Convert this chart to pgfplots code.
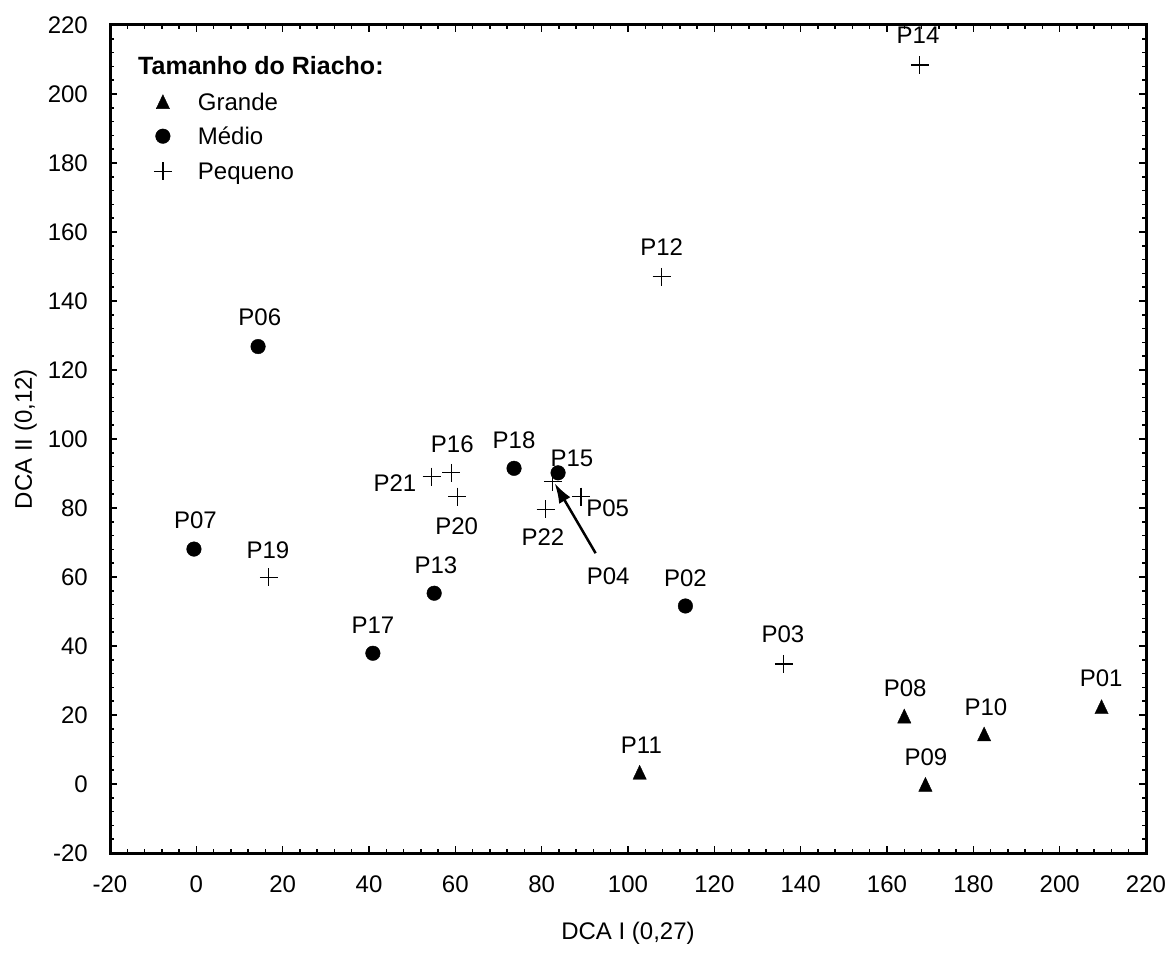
\documentclass[border=0pt]{standalone}
\usepackage{fontspec}
\setmainfont{Liberation Sans}
\usepackage{pgfplots}
\pgfplotsset{compat=1.18}
\usetikzlibrary{arrows.meta}
\newcommand\fs{\fontsize{24}{29}\selectfont}
\pgfdeclareplotmark{tri}{%
 \pgfpathmoveto{\pgfqpoint{0pt}{\pgfplotmarksize}}%
 \pgfpathlineto{\pgfqpoint{-0.95\pgfplotmarksize}{-\pgfplotmarksize}}%
 \pgfpathlineto{\pgfqpoint{0.95\pgfplotmarksize}{-\pgfplotmarksize}}%
 \pgfpathclose\pgfusepathqfillstroke}
\begin{document}
\begin{tikzpicture}[font=\fs]
\begin{axis}[
 scale only axis, width=1036pt, height=828pt,
 xmin=-20, xmax=220, ymin=-20, ymax=220,
 xtick distance=20, ytick distance=20, minor tick num=4,
 tick align=inside, tick pos=both,
 major tick length=7pt, minor tick length=4pt,
 every tick/.style={black, line width=1.5pt},
 separate axis lines,
 axis line style={line width=3pt, line cap=rect},
 every outer x axis line/.append style={line width=3pt},
 every outer y axis line/.append style={line width=3pt},
 clip=false,
 /pgf/number format/assume math mode=true,
 tick label style={font=\fs},
 xticklabel style={inner sep=0pt, yshift=-23pt},
 yticklabel style={inner sep=0pt, xshift=-22pt},
 xlabel={DCA I (0,27)},
 xlabel style={at={(axis description cs:0.5,0)}, anchor=base, yshift=-86pt, font=\fs},
 ylabel={DCA II (0,12)},
 ylabel style={at={([xshift=-78pt]axis description cs:0,0.5)}, anchor=base, font=\fs},
 legend style={at={(axis description cs:0,1)}, anchor=north west, xshift=42.7pt, yshift=-68pt,
   draw=none, fill=none, inner xsep=0pt, inner ysep=0pt, row sep=17.5pt, column sep=25pt,
   font=\fs, nodes={inner sep=0pt, text height=17pt, text depth=0pt}},
 legend cell align=left,
 legend image code/.code={\path[draw=none,fill=none] (-10pt,-1pt) rectangle (10pt,1pt); \draw[#1] plot coordinates {(0pt,0pt)};},
]
\coordinate (sw) at (rel axis cs:0,0);
\coordinate (ne) at (rel axis cs:1,1);
% Grande
\addplot[only marks, mark=tri, mark size=7pt, black, mark options={fill=black}] coordinates {
 (209.7,22.4) (164.0,19.7) (168.9,-0.1) (182.5,14.5) (102.7,3.4)
};
\addlegendentry{Grande}
% Medio
\addplot[only marks, mark=*, mark size=7.3pt, black, mark options={fill=black}] coordinates {
 (113.3,51.6) (14.3,126.8) (-0.55,68.1) (55.1,55.3) (40.9,37.9) (73.6,91.5) (83.8,90.2)
};
\addlegendentry{Médio}
% Pequeno
\addplot[only marks, mark=+, mark size=9pt, black, mark options={line width=1.2pt}] coordinates {
 (136.1,34.8) (82.6,87.6) (89.1,83.3) (107.8,147.0) (167.6,208.4)
 (59.1,90.2) (16.8,59.9) (60.5,83.3) (54.5,89.1) (80.9,79.6)
};
\addlegendentry{Pequeno}
\addplot[black, line width=2.5pt, -{Latex[length=20pt,width=13pt]}] coordinates {(92.5,66.9) (83.0,87.2)};
\node[anchor=base west, inner sep=0pt, font=\bfseries\fontsize{25}{30}\selectfont] at ([xshift=28pt,yshift=-50pt]rel axis cs:0,1) {Tamanho do Riacho:};
\begin{scope}[every node/.style={inner sep=0pt, font=\fs}]
\node at (axis cs:209.6,30.6) {P01};
\node at (axis cs:164.2,27.7) {P08};
\node at (axis cs:169.0,7.9) {P09};
\node at (axis cs:182.9,22.4) {P10};
\node at (axis cs:103.1,11.3) {P11};
\node at (axis cs:113.3,59.7) {P02};
\node at (axis cs:135.9,43.5) {P03};
\node at (axis cs:14.7,135.4) {P06};
\node at (axis cs:-0.2,76.5) {P07};
\node at (axis cs:16.6,67.8) {P19};
\node at (axis cs:40.9,46.1) {P17};
\node at (axis cs:55.5,63.5) {P13};
\node at (axis cs:107.8,155.7) {P12};
\node at (axis cs:167.2,217.1) {P14};
\node at (axis cs:59.3,98.6) {P16};
\node at (axis cs:73.6,99.5) {P18};
\node at (axis cs:87.0,94.4) {P15};
\node at (axis cs:46.0,87.3) {P21};
\node at (axis cs:60.3,74.8) {P20};
\node at (axis cs:80.3,71.6) {P22};
\node at (axis cs:95.3,80.0) {P05};
\node at (axis cs:95.4,60.1) {P04};
\end{scope}
\end{axis}
\pgfresetboundingbox
\useasboundingbox ([shift={(-110pt,-103pt)}]sw) rectangle ([shift={(24pt,25pt)}]ne);
\end{tikzpicture}
\end{document}
